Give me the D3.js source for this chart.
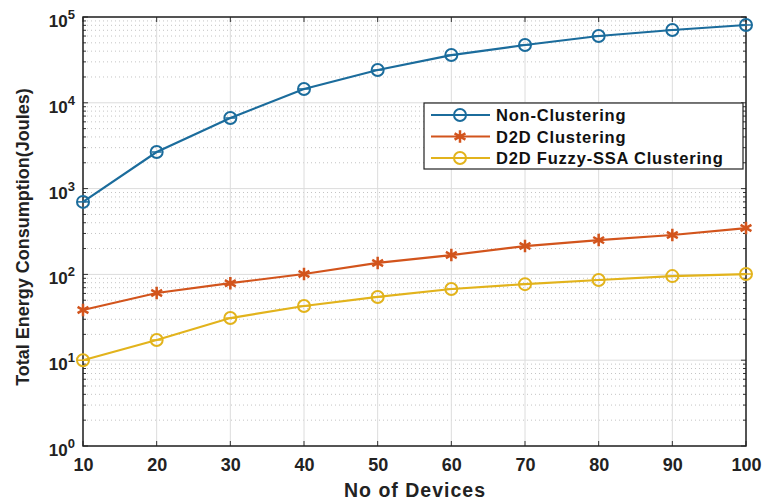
<!DOCTYPE html>
<html>
<head>
<meta charset="utf-8">
<script src="https://cdn.jsdelivr.net/npm/d3@7"></script>
<style>
  body { margin: 0; background: #fff; }
  text { font-family: Arial, "Liberation Sans", sans-serif; }
</style>
</head>
<body>
<svg id="chart" width="763" height="502"></svg>
<script>
// data
var devices = [10, 20, 30, 40, 50, 60, 70, 80, 90, 100];
var nonClustering = [700, 2670, 6650, 14500, 24100, 36000, 47200, 60100, 70500, 80700];
var d2dClustering = [38.5, 60.7, 79, 101, 136, 168, 214, 251, 288, 347];
var fuzzySsa = [10, 17.2, 31, 42.8, 54.6, 67.6, 77, 86, 95.5, 101];
var seriesNames = ["Non-Clustering", "D2D Clustering", "D2D Fuzzy-SSA Clustering"];
var yTickExps = [0, 1, 2, 3, 4, 5];

var margin = {top: 17, right: 17, bottom: 56, left: 83},
    width = 763 - margin.left - margin.right,
    height = 502 - margin.top - margin.bottom;

var colors = ["#1b6c9c", "#d2541c", "#e2b31c"];
var markers = ["circle", "star", "circle"];

var svg = d3.select("#chart");
var g = svg.append("g")
    .attr("transform", "translate(" + margin.left + "," + margin.top + ")");

var x = d3.scaleLinear().domain([10, 100]).range([0, width]);
var y = d3.scaleLog().domain([1, 1e5]).range([height, 0]);

// minor grid (dotted)
var minor = [];
for (var e = 0; e < 5; e++) {
  for (var m = 2; m <= 9; m++) minor.push(m * Math.pow(10, e));
}
g.append("g").selectAll("line").data(minor).enter().append("line")
    .attr("x1", 0).attr("x2", width)
    .attr("y1", function(d) { return y(d); }).attr("y2", function(d) { return y(d); })
    .attr("stroke", "#c4c4c4").attr("stroke-width", 1)
    .attr("stroke-dasharray", "1,3");

// major grid
g.append("g").selectAll("line").data(yTickExps).enter().append("line")
    .attr("x1", 0).attr("x2", width)
    .attr("y1", function(d) { return y(Math.pow(10, d)); })
    .attr("y2", function(d) { return y(Math.pow(10, d)); })
    .attr("stroke", "#dcdcdc").attr("stroke-width", 1);
g.append("g").selectAll("line").data(devices).enter().append("line")
    .attr("y1", 0).attr("y2", height)
    .attr("x1", function(d) { return x(d); }).attr("x2", function(d) { return x(d); })
    .attr("stroke", "#dcdcdc").attr("stroke-width", 1);

// axes
var xAxis = g.append("g")
    .attr("transform", "translate(0," + height + ")")
    .call(d3.axisBottom(x).tickValues(devices).tickSize(0).tickPadding(12));
xAxis.select(".domain").remove();
xAxis.selectAll("text")
    .attr("font-size", 18).attr("font-weight", "bold").attr("fill", "#222")
    .style("font-family", "Arial, 'Liberation Sans', sans-serif");

// y tick labels as 10^n
var yLab = g.append("g").selectAll("text").data(yTickExps).enter().append("text")
    .attr("x", -8)
    .attr("y", function(d) { return y(Math.pow(10, d)) + 10; })
    .attr("text-anchor", "end")
    .attr("font-size", 17).attr("font-weight", "bold").attr("fill", "#222");
yLab.append("tspan").text("10");
yLab.append("tspan").attr("dy", -8).attr("font-size", 13)
    .text(function(d) { return d; });

// tick marks on all four sides
var tickLen = 5;
var sides = g.append("g").attr("stroke", "#333").attr("stroke-width", 1);
devices.forEach(function(d) {
  sides.append("line").attr("x1", x(d)).attr("x2", x(d)).attr("y1", height).attr("y2", height - tickLen);
  sides.append("line").attr("x1", x(d)).attr("x2", x(d)).attr("y1", 0).attr("y2", tickLen);
});
yTickExps.forEach(function(d) {
  var yy = y(Math.pow(10, d));
  sides.append("line").attr("x1", 0).attr("x2", tickLen).attr("y1", yy).attr("y2", yy);
  sides.append("line").attr("x1", width).attr("x2", width - tickLen).attr("y1", yy).attr("y2", yy);
});
minor.forEach(function(d) {
  sides.append("line").attr("x1", 0).attr("x2", 3).attr("y1", y(d)).attr("y2", y(d));
  sides.append("line").attr("x1", width).attr("x2", width - 3).attr("y1", y(d)).attr("y2", y(d));
});

// box
g.append("rect")
    .attr("width", width).attr("height", height)
    .attr("fill", "none").attr("stroke", "#222").attr("stroke-width", 1.5);

// series
var allSeries = [nonClustering, d2dClustering, fuzzySsa];
var line = d3.line()
    .x(function(d, i) { return x(devices[i]); })
    .y(function(d) { return y(d); });

function drawMarker(sel, type, color, cx, cy) {
  if (type === "circle") {
    sel.append("circle").attr("cx", cx).attr("cy", cy).attr("r", 6)
        .attr("fill", "none").attr("stroke", color).attr("stroke-width", 2);
    sel.append("line").attr("x1", cx - 5).attr("x2", cx + 5).attr("y1", cy).attr("y2", cy)
        .attr("stroke", color).attr("stroke-width", 1.5);
  } else {
    sel.append("path")
        .attr("d", d3.symbol().type(d3.symbolAsterisk).size(110)())
        .attr("transform", "translate(" + cx + "," + cy + ")")
        .attr("fill", "none").attr("stroke", color).attr("stroke-width", 2.5);
  }
}

allSeries.forEach(function(s, k) {
  g.append("path").datum(s)
      .attr("d", line)
      .attr("fill", "none").attr("stroke", colors[k]).attr("stroke-width", 2.2);
  var mg = g.append("g");
  s.forEach(function(v, i) {
    drawMarker(mg, markers[k], colors[k], x(devices[i]), y(v));
  });
});

// legend
var lg = svg.append("g").attr("transform", "translate(424,103)");
lg.append("rect").attr("width", 319).attr("height", 66)
    .attr("fill", "#fff").attr("stroke", "#222").attr("stroke-width", 1.2);
seriesNames.forEach(function(name, k) {
  var ly = 12 + k * 21.5;
  lg.append("line").attr("x1", 7).attr("x2", 66).attr("y1", ly).attr("y2", ly)
      .attr("stroke", colors[k]).attr("stroke-width", 2.2);
  drawMarker(lg, markers[k], colors[k], 36, ly);
  lg.append("text").attr("x", 72).attr("y", ly + 6)
      .attr("font-size", 16.5).attr("font-weight", "bold").attr("fill", "#111")
      .attr("letter-spacing", 0.8)
      .text(name);
});

// axis titles
svg.append("text")
    .attr("x", 415).attr("y", 497)
    .attr("text-anchor", "middle")
    .attr("font-size", 19.5).attr("font-weight", "bold").attr("fill", "#222")
    .attr("letter-spacing", 1)
    .text("No of Devices");

svg.append("text")
    .attr("transform", "translate(29,237) rotate(-90)")
    .attr("text-anchor", "middle")
    .attr("font-size", 18).attr("font-weight", "bold").attr("fill", "#222")
    .text("Total Energy Consumption(Joules)");
</script>
</body>
</html>
